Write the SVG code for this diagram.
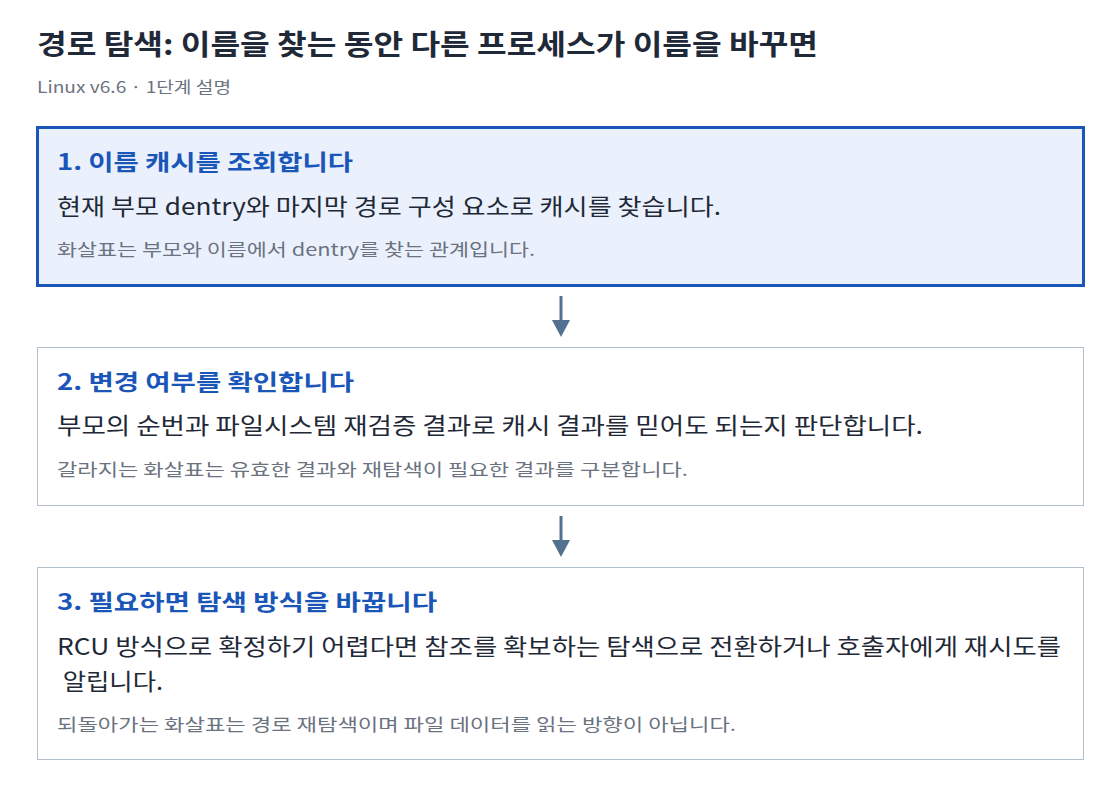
<svg xmlns="http://www.w3.org/2000/svg" width="1120" height="788" viewBox="0 0 1120 788">
<defs>
<style>
text{font-family:"Noto Sans CJK KR","Noto Sans",sans-serif}
.title{font-size:28px;font-weight:700;fill:#1f2937}
.sub{font-size:16px;fill:#6b7280}
.head{font-size:22px;font-weight:700;fill:#1a56b8}
.body{font-size:23px;fill:#1f2937}
.note{font-size:17px;fill:#6b7280}
.box{fill:#ffffff;stroke:#b4bfcc;stroke-width:1}
.box.active{fill:#eaf1fc;stroke:#1a56b8;stroke-width:3}
.conn{stroke:#52708f;stroke-width:3;fill:none}
</style>
</defs>
<rect width="1120" height="788" fill="#ffffff"/>
<text class="title" x="37" y="55" textLength="781" lengthAdjust="spacingAndGlyphs">경로 탐색: 이름을 찾는 동안 다른 프로세스가 이름을 바꾸면</text>
<text class="sub" x="37" y="93" textLength="194" lengthAdjust="spacingAndGlyphs">Linux v6.6 · 1단계 설명</text>
<g id="connectors">
<line class="conn" x1="561" y1="296" x2="561" y2="328"/>
<path d="M552,320 L570,320 L561,337 z" fill="#52708f"/>
<line class="conn" x1="561" y1="516" x2="561" y2="548"/>
<path d="M552,540 L570,540 L561,557 z" fill="#52708f"/>
</g>
<g id="step1">
<rect class="box active" x="37.5" y="127.5" width="1046" height="158"/>
<text class="head" x="57" y="170" textLength="296" lengthAdjust="spacingAndGlyphs">1. 이름 캐시를 조회합니다</text>
<text class="body" x="57" y="215" textLength="664" lengthAdjust="spacingAndGlyphs">현재 부모 dentry와 마지막 경로 구성 요소로 캐시를 찾습니다.</text>
<text class="note" x="57" y="256" textLength="478" lengthAdjust="spacingAndGlyphs">화살표는 부모와 이름에서 dentry를 찾는 관계입니다.</text>
</g>
<g id="step2">
<rect class="box" x="37.5" y="347.5" width="1046" height="158"/>
<text class="head" x="57" y="390" textLength="297" lengthAdjust="spacingAndGlyphs">2. 변경 여부를 확인합니다</text>
<text class="body" x="57" y="434" textLength="866" lengthAdjust="spacingAndGlyphs">부모의 순번과 파일시스템 재검증 결과로 캐시 결과를 믿어도 되는지 판단합니다.</text>
<text class="note" x="57" y="476" textLength="631" lengthAdjust="spacingAndGlyphs">갈라지는 화살표는 유효한 결과와 재탐색이 필요한 결과를 구분합니다.</text>
</g>
<g id="step3">
<rect class="box" x="37.5" y="567.5" width="1046" height="192"/>
<text class="head" x="57" y="610" textLength="380" lengthAdjust="spacingAndGlyphs">3. 필요하면 탐색 방식을 바꿉니다</text>
<text class="body" x="57" y="655" textLength="1004" lengthAdjust="spacingAndGlyphs">RCU 방식으로 확정하기 어렵다면 참조를 확보하는 탐색으로 전환하거나 호출자에게 재시도를</text>
<text class="body" x="57" y="690" xml:space="preserve" textLength="106" lengthAdjust="spacingAndGlyphs"> 알립니다.</text>
<text class="note" x="57" y="731" textLength="679" lengthAdjust="spacingAndGlyphs">되돌아가는 화살표는 경로 재탐색이며 파일 데이터를 읽는 방향이 아닙니다.</text>
</g>
</svg>
